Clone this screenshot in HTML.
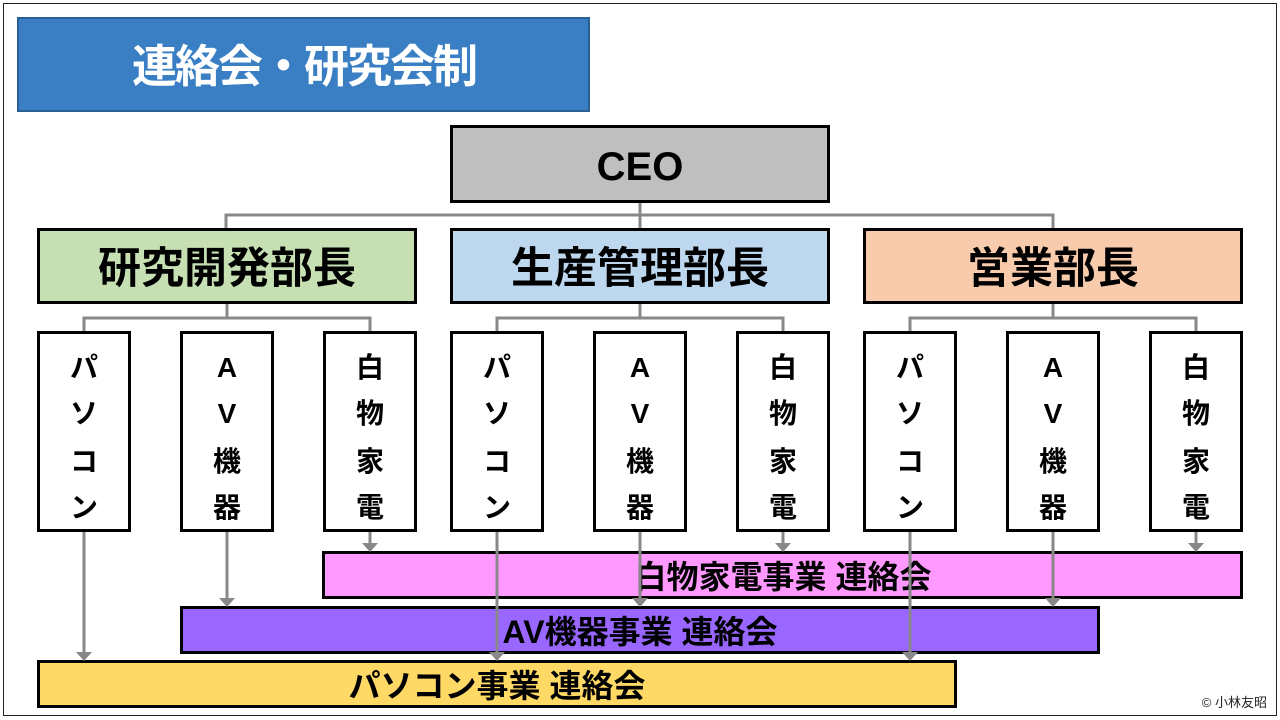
<!DOCTYPE html>
<html><head><meta charset="utf-8">
<style>
html,body{margin:0;padding:0;background:#fff;}
svg{display:block;}
text{font-family:"Liberation Sans","Noto Sans CJK JP",sans-serif;font-weight:bold;}
</style></head>
<body>
<svg width="1280" height="720" viewBox="0 0 1280 720" xmlns="http://www.w3.org/2000/svg">
<rect x="3.5" y="3.5" width="1273" height="712" fill="#fff" stroke="#222" stroke-width="1"/>
<!-- title -->
<rect x="18" y="18" width="571" height="93" fill="#3a7fc4" stroke="#2a5f94" stroke-width="2"/>
<text x="304" y="82" font-size="45" fill="#fff" text-anchor="middle" letter-spacing="-2">連絡会・研究会制</text>

<!-- connectors gray -->
<g stroke="#888" stroke-width="3" fill="none">
<path d="M640 203 V228 M226 228 V215 H1053 V228"/>
<path d="M227 304 V318 M84 331 V318 H370 V331"/>
<path d="M640 304 V318 M497 331 V318 H783 V331"/>
<path d="M1053 304 V318 M910 331 V318 H1196 V331"/>
</g>

<!-- CEO -->
<rect x="451.5" y="126.5" width="377" height="75" fill="#bfbfbf" stroke="#000" stroke-width="3"/>
<text x="640" y="180" font-size="40" text-anchor="middle">CEO</text>

<!-- managers -->
<rect x="38.5" y="229.5" width="377" height="73" fill="#c6e0b4" stroke="#000" stroke-width="3"/>
<text x="227" y="283" font-size="43" text-anchor="middle">研究開発部長</text>
<rect x="451.5" y="229.5" width="377" height="73" fill="#bdd7ee" stroke="#000" stroke-width="3"/>
<text x="640" y="283" font-size="43" text-anchor="middle">生産管理部長</text>
<rect x="864.5" y="229.5" width="377" height="73" fill="#f8cbad" stroke="#000" stroke-width="3"/>
<text x="1053" y="283" font-size="43" text-anchor="middle">営業部長</text>

<!-- sub boxes -->
<g fill="#fff" stroke="#000" stroke-width="3">
<rect x="38.5" y="332.5" width="91" height="198"/>
<rect x="181.5" y="332.5" width="91" height="198"/>
<rect x="324.5" y="332.5" width="91" height="198"/>
<rect x="451.5" y="332.5" width="91" height="198"/>
<rect x="594.5" y="332.5" width="91" height="198"/>
<rect x="737.5" y="332.5" width="91" height="198"/>
<rect x="864.5" y="332.5" width="91" height="198"/>
<rect x="1007.5" y="332.5" width="91" height="198"/>
<rect x="1150.5" y="332.5" width="91" height="198"/>
</g>
<g font-size="28" text-anchor="middle">
<text x="84" y="377">パ</text><text x="84" y="423">ソ</text><text x="84" y="471">コ</text><text x="84" y="517">ン</text>
<text x="497" y="377">パ</text><text x="497" y="423">ソ</text><text x="497" y="471">コ</text><text x="497" y="517">ン</text>
<text x="910" y="377">パ</text><text x="910" y="423">ソ</text><text x="910" y="471">コ</text><text x="910" y="517">ン</text>
<text x="227" y="377">A</text><text x="227" y="423">V</text><text x="227" y="471">機</text><text x="227" y="517">器</text>
<text x="640" y="377">A</text><text x="640" y="423">V</text><text x="640" y="471">機</text><text x="640" y="517">器</text>
<text x="1053" y="377">A</text><text x="1053" y="423">V</text><text x="1053" y="471">機</text><text x="1053" y="517">器</text>
<text x="370" y="377">白</text><text x="370" y="423">物</text><text x="370" y="471">家</text><text x="370" y="517">電</text>
<text x="783" y="377">白</text><text x="783" y="423">物</text><text x="783" y="471">家</text><text x="783" y="517">電</text>
<text x="1196" y="377">白</text><text x="1196" y="423">物</text><text x="1196" y="471">家</text><text x="1196" y="517">電</text>
</g>

<!-- bars -->
<rect x="38.5" y="661.5" width="917" height="45" fill="#ffd966" stroke="#000" stroke-width="3"/>
<text x="497" y="697" font-size="32" text-anchor="middle">パソコン事業 連絡会</text>
<rect x="181.5" y="607.5" width="917" height="45" fill="#9966ff" stroke="#000" stroke-width="3"/>
<text x="640" y="643" font-size="32" text-anchor="middle">AV機器事業 連絡会</text>
<rect x="323.5" y="552.5" width="918" height="45" fill="#ff99ff" stroke="#000" stroke-width="3"/>
<text x="783" y="588" font-size="32" text-anchor="middle">白物家電事業 連絡会</text>

<!-- arrows -->
<g stroke="#888" stroke-width="3">
<line x1="84" y1="532" x2="84" y2="654"/>
<line x1="497" y1="532" x2="497" y2="654"/>
<line x1="910" y1="532" x2="910" y2="654"/>
<line x1="227" y1="532" x2="227" y2="600"/>
<line x1="640" y1="532" x2="640" y2="600"/>
<line x1="1053" y1="532" x2="1053" y2="600"/>
<line x1="370" y1="532" x2="370" y2="545"/>
<line x1="783" y1="532" x2="783" y2="545"/>
<line x1="1196" y1="532" x2="1196" y2="545"/>
</g>
<g fill="#888">
<polygon points="76,652 92,652 84,661"/>
<polygon points="489,652 505,652 497,661"/>
<polygon points="902,652 918,652 910,661"/>
<polygon points="219,598 235,598 227,607"/>
<polygon points="632,598 648,598 640,607"/>
<polygon points="1045,598 1061,598 1053,607"/>
<polygon points="362,543 378,543 370,552"/>
<polygon points="775,543 791,543 783,552"/>
<polygon points="1188,543 1204,543 1196,552"/>
</g>

<text x="1267" y="707" font-size="13" text-anchor="end" style="font-weight:normal" fill="#222">© 小林友昭</text>
</svg>
</body></html>
